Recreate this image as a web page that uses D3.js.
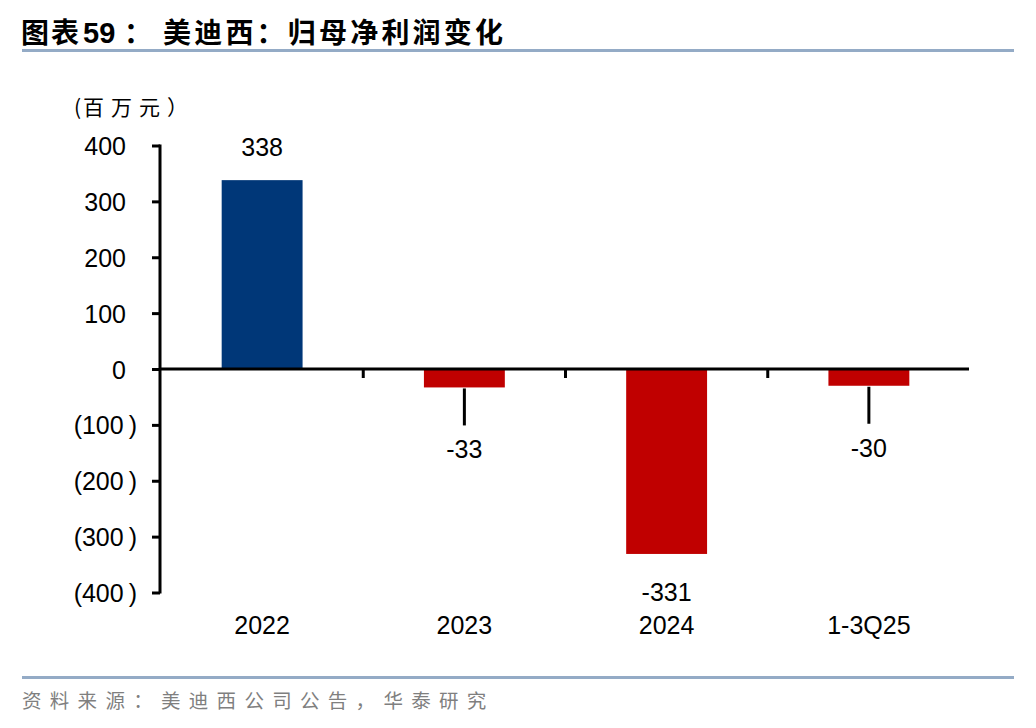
<!DOCTYPE html>
<html><head><meta charset="utf-8">
<script src="https://cdn.jsdelivr.net/npm/d3@7"></script>
<style>body{margin:0;background:#fff}svg{display:block}</style>
</head><body>
<svg id="c" width="1036" height="728"></svg>
<script>
const categories = ["2022", "2023", "2024", "1-3Q25"];
const values = [338, -33, -331, -30];
const yTicks = [400, 300, 200, 100, 0, -100, -200, -300, -400];
const titlePrefix = "图表";
const titleNumber = "59";
const titleColon = "：";
const titleMain = "美迪西：归母净利润变化";
const unitOpen = "(";
const unitText = "百万元）";
const sourceText = "资料来源：美迪西公司公告，华泰研究";

const svg = d3.select("#c");
const latin = "Arial, 'Liberation Sans', sans-serif";
const cjk = "'Noto Sans CJK SC', sans-serif";

// Title
svg.append("text").attr("x", 21).attr("y", 43)
  .attr("font-family", cjk).attr("font-weight", "bold").attr("font-size", 28)
  .attr("letter-spacing", 2).attr("fill", "#000").text(titlePrefix);
svg.append("text").attr("x", 83).attr("y", 43)
  .attr("font-family", latin).attr("font-weight", "bold").attr("font-size", 29)
  .attr("fill", "#000").text(titleNumber);
svg.append("text").attr("x", 124).attr("y", 43)
  .attr("font-family", cjk).attr("font-weight", "bold").attr("font-size", 28)
  .attr("fill", "#000").text(titleColon);
svg.append("text").attr("x", 163).attr("y", 43)
  .attr("font-family", cjk).attr("font-weight", "bold").attr("font-size", 28)
  .attr("letter-spacing", 3.2).attr("fill", "#000").text(titleMain);
svg.append("rect").attr("x", 22).attr("y", 49).attr("width", 992).attr("height", 3).attr("fill", "#94abc6");

// Footer
svg.append("rect").attr("x", 22).attr("y", 676).attr("width", 992).attr("height", 3).attr("fill", "#94abc6");
svg.append("text").attr("x", 22).attr("y", 708)
  .attr("font-family", cjk).attr("font-size", 19.5).attr("letter-spacing", 8.3)
  .attr("fill", "#7f7f7f").text(sourceText);

// Scales
const x = d3.scaleBand().domain(categories).range([161, 970]).paddingInner(0).paddingOuter(0);
const y = d3.scaleLinear().domain([-400, 400]).range([592.5, 145.5]);
const barW = x.bandwidth() * 0.4;

// Unit
const ut = svg.append("text").attr("x", 74).attr("y", 115)
  .attr("font-family", cjk).attr("font-size", 21).attr("fill", "#000");
ut.append("tspan").attr("letter-spacing", 2).text(unitOpen);
ut.append("tspan").attr("letter-spacing", 7).text(unitText);

// Bars
svg.selectAll("rect.bar").data(values).join("rect").attr("class", "bar")
  .attr("x", (d, i) => x(categories[i]) + (x.bandwidth() - barW) / 2)
  .attr("width", barW)
  .attr("y", d => y(Math.max(0, d)))
  .attr("height", d => Math.abs(y(d) - y(0)))
  .attr("fill", d => d >= 0 ? "#003778" : "#C00000");

// Y axis
const fmt = d => d < 0 ? "(" + Math.abs(d) + "\u2009)" : String(d);
const yAxis = d3.axisLeft(y).tickValues(yTicks).tickSize(8).tickPadding(15).tickFormat(fmt);
const gy = svg.append("g").attr("transform", "translate(160,0)").call(yAxis);
gy.select(".domain").attr("stroke", "#000").attr("stroke-width", 3).attr("d", "M0," + (y(400) - 1) + "V" + (y(-400) + 1));
gy.selectAll(".tick line").attr("stroke", "#000").attr("stroke-width", 3);
gy.selectAll(".tick text").attr("font-family", latin).attr("font-size", 25).attr("fill", "#000")
  .attr("dx", d => d >= 0 ? -11 : 0).attr("dy", "0.36em");

// X axis at zero
const xAxis = d3.axisBottom(x).tickSize(0).tickFormat("");
const gx = svg.append("g").attr("transform", "translate(0," + y(0) + ")").call(xAxis);
gx.select(".domain").attr("stroke", "#000").attr("stroke-width", 3).attr("d", "M160,0H969");
// category boundary ticks
const bounds = categories.slice(1).map(c => x(c));
svg.selectAll("line.ctick").data(bounds).join("line").attr("class", "ctick")
  .attr("x1", d => d).attr("x2", d => d).attr("y1", y(0)).attr("y2", y(0) + 9)
  .attr("stroke", "#000").attr("stroke-width", 3);

// Category labels
svg.selectAll("text.cat").data(categories).join("text").attr("class", "cat")
  .attr("x", d => x(d) + x.bandwidth() / 2).attr("y", 634)
  .attr("text-anchor", "middle").attr("font-family", latin).attr("font-size", 25)
  .attr("fill", "#000").text(d => d);

// Data labels
values.forEach((v, i) => {
  const cx = x(categories[i]) + x.bandwidth() / 2;
  if (v >= 0) {
    svg.append("text").attr("x", cx).attr("y", y(v) - 24).attr("text-anchor", "middle")
      .attr("font-family", latin).attr("font-size", 25).text(v);
  } else if (Math.abs(v) < 100) {
    const top = y(v) + 1;
    svg.append("line").attr("x1", cx).attr("x2", cx).attr("y1", top).attr("y2", top + 37)
      .attr("stroke", "#000").attr("stroke-width", 3);
    svg.append("text").attr("x", cx).attr("y", top + 70).attr("text-anchor", "middle")
      .attr("font-family", latin).attr("font-size", 25).text(v);
  } else {
    svg.append("text").attr("x", cx).attr("y", y(v) + 47).attr("text-anchor", "middle")
      .attr("font-family", latin).attr("font-size", 25).text(v);
  }
});
</script>
</body></html>
